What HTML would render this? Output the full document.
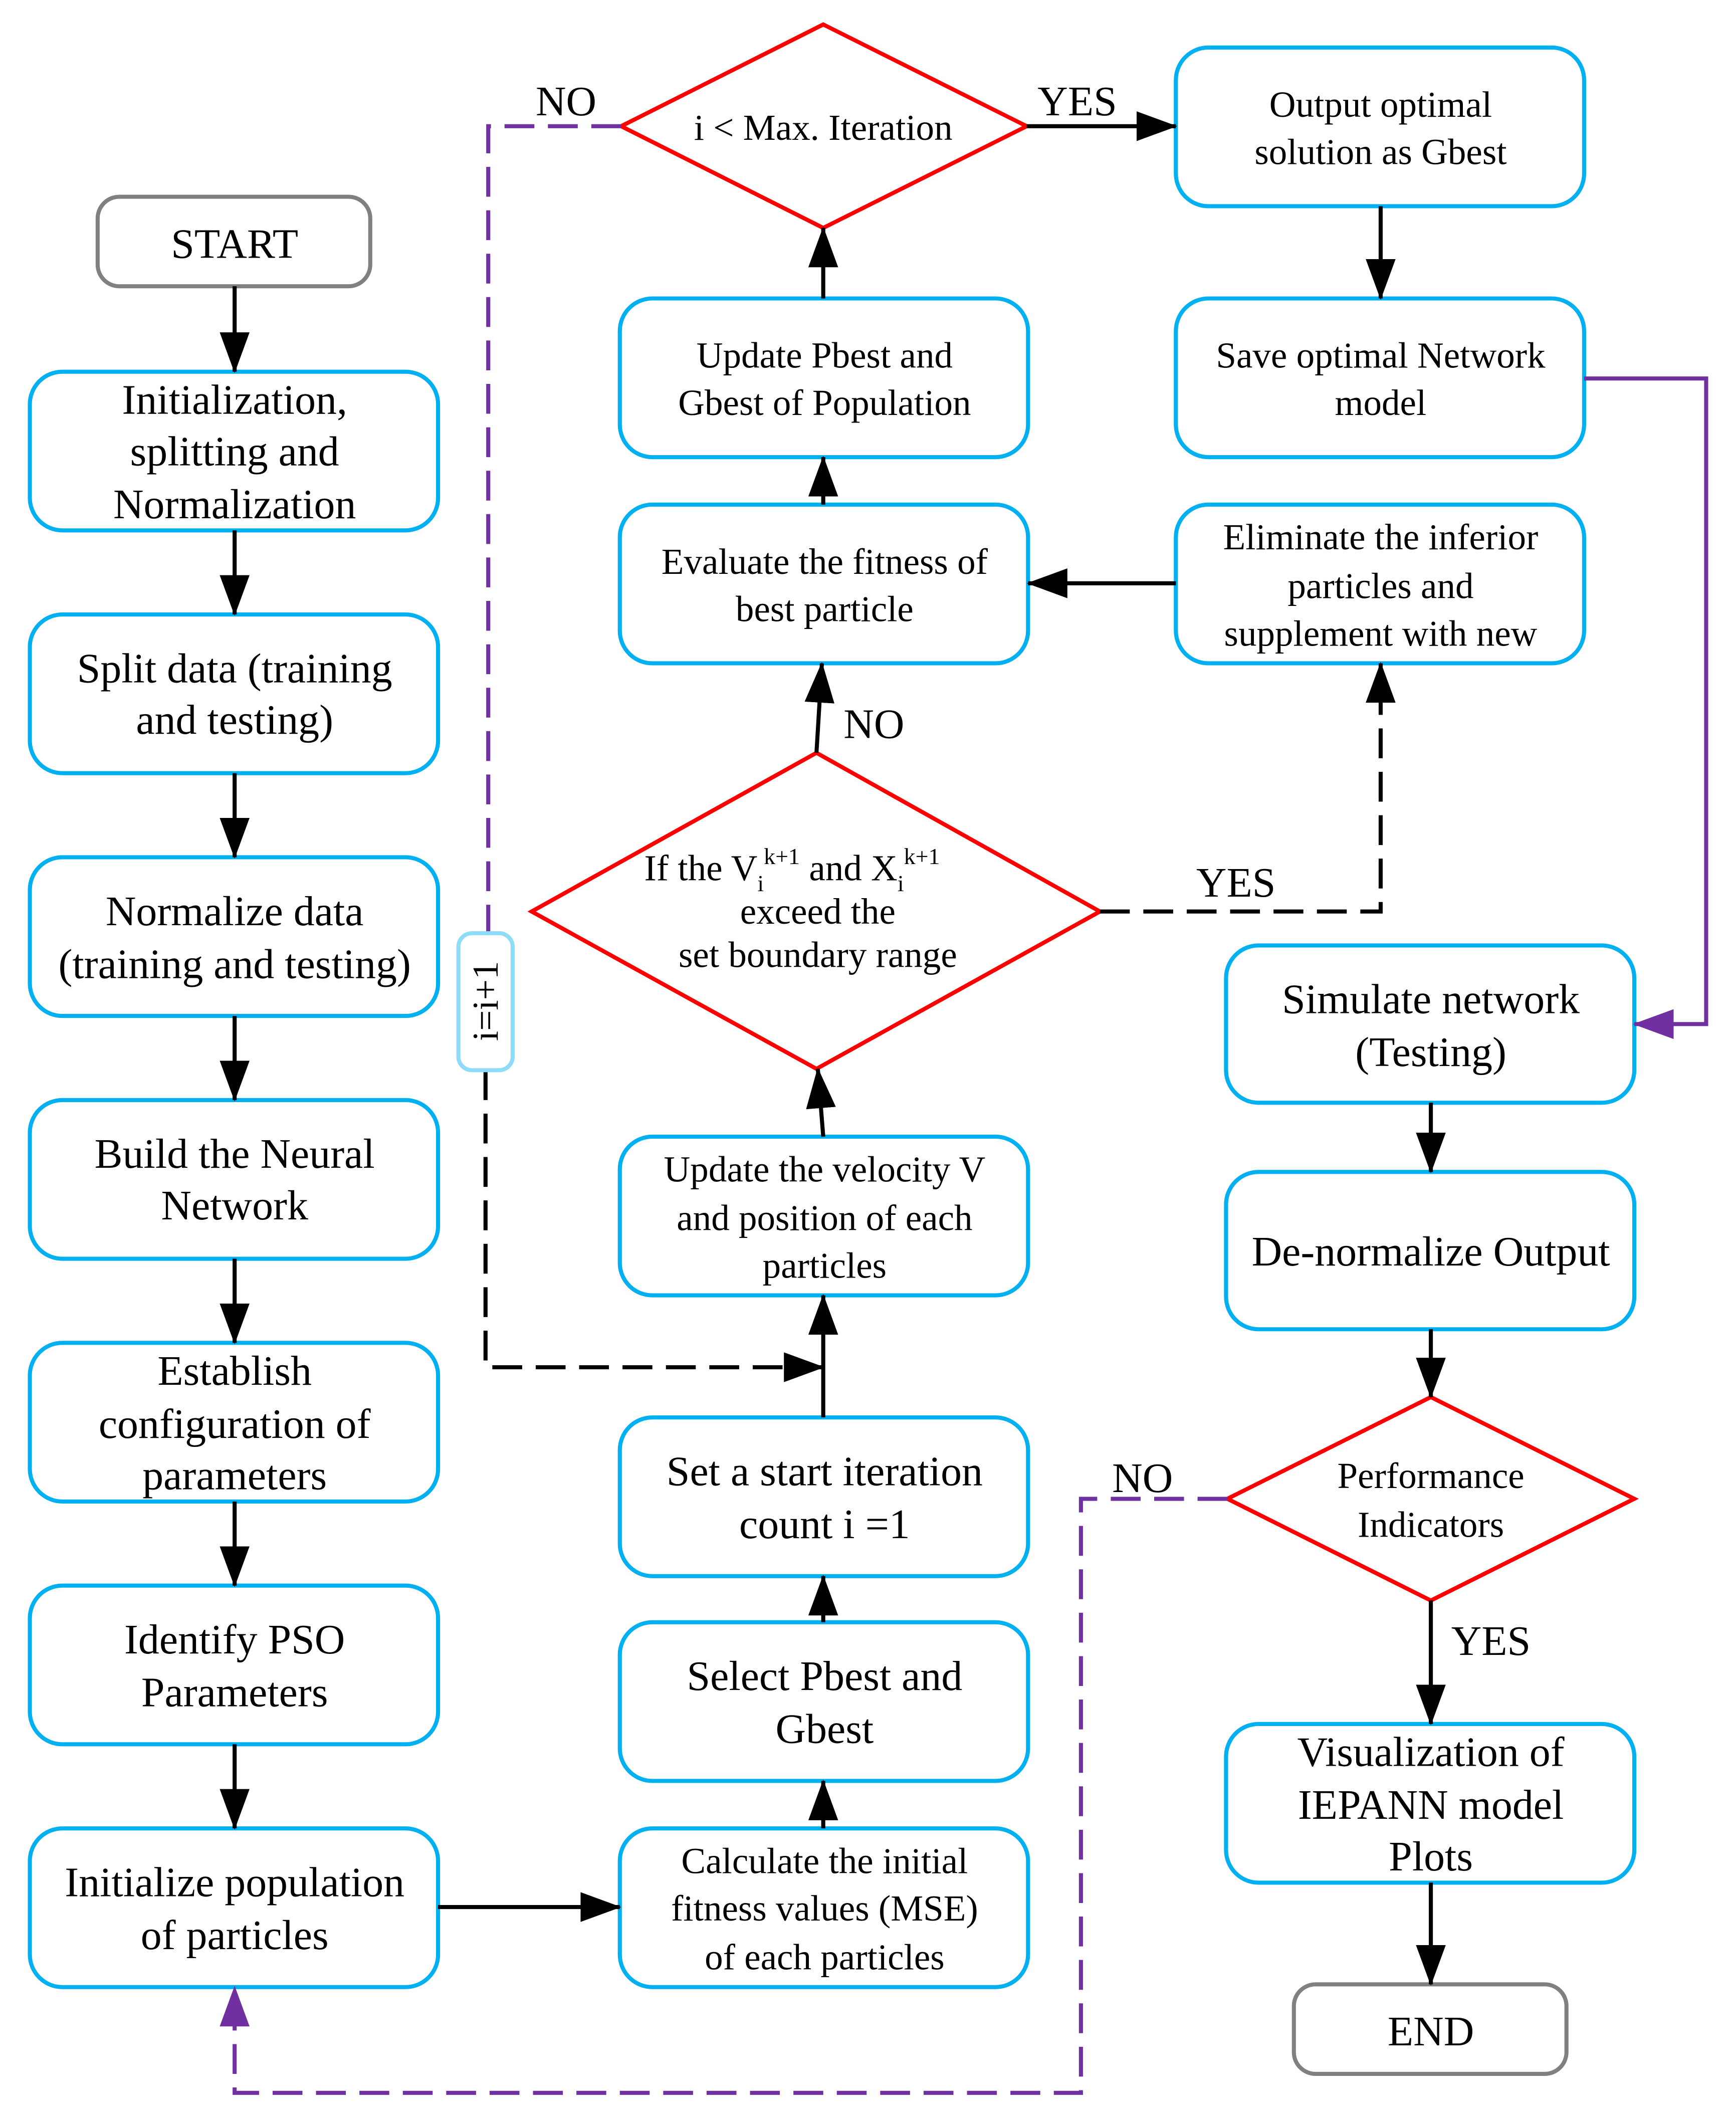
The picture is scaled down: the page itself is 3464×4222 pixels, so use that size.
<!DOCTYPE html>
<html><head><meta charset="utf-8"><style>
html,body{margin:0;padding:0;background:#fff}
svg{display:block}
text{font-family:"Liberation Serif",serif;fill:#000}
</style></head><body>
<svg width="3464" height="4222" viewBox="0 0 1280 1560" xmlns="http://www.w3.org/2000/svg">
<defs>
<marker id="a" markerWidth="10" markerHeight="10" refX="9" refY="5" orient="auto" markerUnits="userSpaceOnUse" viewBox="0 0 10 10"><path d="M0,0 L10,5 L0,10 z" fill="#000" transform="scale(1)"/></marker>
<marker id="b" viewBox="0 0 30 22" refX="29" refY="11" markerWidth="30" markerHeight="22" orient="auto" markerUnits="userSpaceOnUse"><path d="M0,0 L30,11 L0,22 z" fill="#000"/></marker>
<marker id="p" viewBox="0 0 30 22" refX="29" refY="11" markerWidth="30" markerHeight="22" orient="auto" markerUnits="userSpaceOnUse"><path d="M0,0 L30,11 L0,22 z" fill="#7030a0"/></marker>
</defs>
<g fill="none" stroke-width="3">
<!-- gray terminals -->
<rect x="72" y="145" width="201" height="66" rx="16" stroke="#808080"/>
<rect x="954" y="1463" width="201" height="66" rx="16" stroke="#808080"/>
<!-- left column -->
<g stroke="#00b0f0">
<rect x="22" y="274" width="301" height="117" rx="24"/>
<rect x="22" y="453" width="301" height="117" rx="24"/>
<rect x="22" y="632" width="301" height="117" rx="24"/>
<rect x="22" y="811" width="301" height="117" rx="24"/>
<rect x="22" y="990" width="301" height="117" rx="24"/>
<rect x="22" y="1169" width="301" height="117" rx="24"/>
<rect x="22" y="1348" width="301" height="117" rx="24"/>
<rect x="457" y="1348" width="301" height="117" rx="24"/>
<rect x="457" y="1196" width="301" height="117" rx="24"/>
<rect x="457" y="1045" width="301" height="117" rx="24"/>
<rect x="457" y="838" width="301" height="117" rx="24"/>
<rect x="457" y="372" width="301" height="117" rx="24"/>
<rect x="457" y="220" width="301" height="117" rx="24"/>
<rect x="867" y="35" width="301" height="117" rx="24"/>
<rect x="867" y="220" width="301" height="117" rx="24"/>
<rect x="867" y="372" width="301" height="117" rx="24"/>
<rect x="904" y="697" width="301" height="116" rx="24"/>
<rect x="904" y="864" width="301" height="116" rx="24"/>
<rect x="904" y="1271" width="301" height="117" rx="24"/>
</g>
<g stroke="#ff0000">
<path d="M458,93 L607,18 L757,93 L607,168 Z"/>
<path d="M392,672 L602,555 L811,672 L602,788 Z"/>
<path d="M905,1105 L1055,1030 L1205,1105 L1055,1180 Z"/>
</g>
<!-- black arrows -->
<g stroke="#000">
<line x1="173" y1="211" x2="173" y2="274" marker-end="url(#b)"/>
<line x1="173" y1="391" x2="173" y2="453" marker-end="url(#b)"/>
<line x1="173" y1="570" x2="173" y2="632" marker-end="url(#b)"/>
<line x1="173" y1="749" x2="173" y2="811" marker-end="url(#b)"/>
<line x1="173" y1="928" x2="173" y2="990" marker-end="url(#b)"/>
<line x1="173" y1="1107" x2="173" y2="1169" marker-end="url(#b)"/>
<line x1="173" y1="1286" x2="173" y2="1348" marker-end="url(#b)"/>
<line x1="323" y1="1406" x2="457" y2="1406" marker-end="url(#b)"/>
<line x1="607" y1="1348" x2="607" y2="1313" marker-end="url(#b)"/>
<line x1="607" y1="1196" x2="607" y2="1162" marker-end="url(#b)"/>
<line x1="607" y1="1045" x2="607" y2="955" marker-end="url(#b)"/>
<line x1="607" y1="838" x2="603" y2="788" marker-end="url(#b)"/>
<line x1="602" y1="555" x2="606" y2="489" marker-end="url(#b)"/>
<line x1="607" y1="372" x2="607" y2="337" marker-end="url(#b)"/>
<line x1="607" y1="220" x2="607" y2="168" marker-end="url(#b)"/>
<line x1="757" y1="93" x2="867" y2="93" marker-end="url(#b)"/>
<line x1="1018" y1="152" x2="1018" y2="220" marker-end="url(#b)"/>
<line x1="867" y1="430" x2="758" y2="430" marker-end="url(#b)"/>
<line x1="1055" y1="813" x2="1055" y2="864" marker-end="url(#b)"/>
<line x1="1055" y1="980" x2="1055" y2="1030" marker-end="url(#b)"/>
<line x1="1055" y1="1180" x2="1055" y2="1271" marker-end="url(#b)"/>
<line x1="1055" y1="1388" x2="1055" y2="1463" marker-end="url(#b)"/>
</g>
<!-- dashed black -->
<g stroke="#000" stroke-dasharray="22,10">
<path d="M811,672 L1018,672 L1018,489" marker-end="url(#b)"/>
<path d="M358,789 L358,1008 L607,1008" marker-end="url(#b)"/>
</g>
<!-- purple -->
<path d="M458,93 L360,93 L360,688" stroke="#7030a0" stroke-dasharray="22,10"/>
<path d="M1168,279 L1258,279 L1258,755 L1205,755" stroke="#7030a0" marker-end="url(#p)"/>
<path d="M905,1105 L797,1105 L797,1543 L173,1543 L173,1465" stroke="#7030a0" stroke-dasharray="22,10" marker-end="url(#p)"/>
<rect x="338" y="688" width="40" height="101" rx="10" stroke="#8fdcfa"/>
</g>
<g font-size="31" text-anchor="middle">
<text x="173" y="190">START</text>
<text x="1055" y="1508">END</text>
<text x="173" y="305">Initialization,</text>
<text x="173" y="343">splitting and</text>
<text x="173" y="382">Normalization</text>
<text x="173" y="503">Split  data  (training</text>
<text x="173" y="541">and testing)</text>
<text x="173" y="682">Normalize data</text>
<text x="173" y="721">(training and testing)</text>
<text x="173" y="861">Build the Neural</text>
<text x="173" y="899">Network</text>
<text x="173" y="1021">Establish</text>
<text x="173" y="1060">configuration of</text>
<text x="173" y="1098">parameters</text>
<text x="173" y="1219">Identify PSO</text>
<text x="173" y="1258">Parameters</text>
<text x="173" y="1398">Initialize population</text>
<text x="173" y="1437">of particles</text>
<text x="608" y="1246">Select Pbest and</text>
<text x="608" y="1285">Gbest</text>
<text x="608" y="1095">Set a start iteration</text>
<text x="608" y="1134">count  i =1</text>
<text x="1055" y="747">Simulate network</text>
<text x="1055" y="786">(Testing)</text>
<text x="1055" y="933">De-normalize Output</text>
<text x="1055" y="1302">Visualization of</text>
<text x="1055" y="1341">IEPANN model</text>
<text x="1055" y="1379">Plots</text>
</g>
<g font-size="27" text-anchor="middle">
<text x="608" y="1381">Calculate the initial</text>
<text x="608" y="1416">fitness values (MSE)</text>
<text x="608" y="1452">of each particles</text>
<text x="608" y="871">Update the velocity V</text>
<text x="608" y="907">and position of each</text>
<text x="608" y="942">particles</text>
<text x="608" y="423">Evaluate the fitness of</text>
<text x="608" y="458">best particle</text>
<text x="608" y="271">Update Pbest and</text>
<text x="608" y="306">Gbest of Population</text>
<text x="607" y="103">i &lt; Max. Iteration</text>
<text x="1018" y="86">Output optimal</text>
<text x="1018" y="121">solution as  Gbest</text>
<text x="1018" y="271">Save optimal Network</text>
<text x="1018" y="306">model</text>
<text x="1018" y="405">Eliminate the inferior</text>
<text x="1018" y="441">particles and</text>
<text x="1018" y="476">supplement with new</text>
<text x="1055" y="1097">Performance</text>
<text x="1055" y="1133">Indicators</text>
<text x="603" y="681">exceed the</text>
<text x="603" y="713">set boundary range</text>
</g>
<text x="475" y="649" font-size="27">If the V<tspan font-size="17" dy="8">i</tspan><tspan font-size="17" dy="-20">k+1</tspan><tspan dy="12">  and  X</tspan><tspan font-size="17" dy="8">i</tspan><tspan font-size="17" dy="-20">k+1</tspan></text>
<g font-size="31">
<text x="395" y="85">NO</text>
<text x="765" y="85">YES</text>
<text x="622" y="544">NO</text>
<text x="882" y="661">YES</text>
<text x="820" y="1100">NO</text>
<text x="1070" y="1220">YES</text>
</g>
<text transform="translate(367,738) rotate(-90)" font-size="27" text-anchor="middle">i=i+1</text>
</svg>
</body></html>
